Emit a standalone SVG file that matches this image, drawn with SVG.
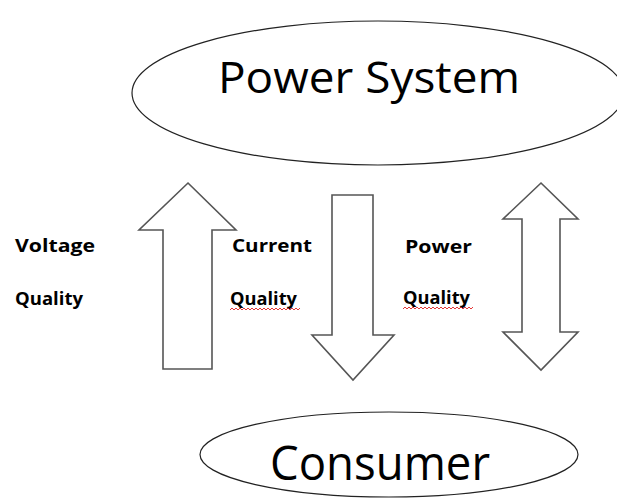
<svg xmlns="http://www.w3.org/2000/svg" width="617" height="499" viewBox="0 0 617 499">
<style>
.ell{fill:#fff;stroke:#222;stroke-width:1.2}
.arr{fill:#fff;stroke:#555;stroke-width:1.6;stroke-linejoin:miter}
.big{font-family:"Open Sans","Liberation Sans",sans-serif;fill:#000}
.lbl{font-family:"Open Sans","Liberation Sans",sans-serif;font-weight:bold;font-size:18.5px;fill:#000}
.sq{fill:none;stroke:#e02020;stroke-width:0.9}
</style>
<rect width="617" height="499" fill="#fff"/>
<g id="power-system">
<ellipse class="ell" cx="378" cy="93" rx="246" ry="72"/>
<text class="big" x="218" y="93" font-size="43" textLength="302" lengthAdjust="spacingAndGlyphs">Power System</text>
</g>
<g id="consumer">
<ellipse class="ell" cx="389" cy="454.5" rx="189" ry="42.5"/>
<text class="big" x="270" y="480" font-size="47" textLength="220" lengthAdjust="spacingAndGlyphs">Consumer</text>
</g>
<g id="connectors">
<polygon id="voltage-arrow" class="arr" points="188,183 236,230 212,230 212,369 163,369 163,230 139,230"/>
<polygon id="current-arrow" class="arr" points="332,195 373,195 373,335 394,335 353,380 312,335 332,335"/>
<polygon id="power-arrow" class="arr" points="541,183 578,219 560,219 560,332 578,332 541,370 503,332 522,332 522,219 503,219"/>
</g>
<g id="labels">
<text class="lbl" x="15" y="252" textLength="80" lengthAdjust="spacingAndGlyphs">Voltage</text>
<text class="lbl" x="15" y="305" textLength="68" lengthAdjust="spacingAndGlyphs">Quality</text>
<text class="lbl" x="232" y="252" textLength="80" lengthAdjust="spacingAndGlyphs">Current</text>
<text class="lbl" x="230" y="305" textLength="67" lengthAdjust="spacingAndGlyphs">Quality</text>
<text class="lbl" x="405" y="253" textLength="67" lengthAdjust="spacingAndGlyphs">Power</text>
<text class="lbl" x="403" y="304" textLength="67" lengthAdjust="spacingAndGlyphs">Quality</text>
<path class="sq" d="M230 310 l2 -2 l2 2 l2 -2 l2 2 l2 -2 l2 2 l2 -2 l2 2 l2 -2 l2 2 l2 -2 l2 2 l2 -2 l2 2 l2 -2 l2 2 l2 -2 l2 2 l2 -2 l2 2 l2 -2 l2 2 l2 -2 l2 2 l2 -2 l2 2 l2 -2 l2 2 l2 -2 l2 2 l2 -2 l2 2 l2 -2 l2 2 l2 -2"/>
<path class="sq" d="M403 309 l2 -2 l2 2 l2 -2 l2 2 l2 -2 l2 2 l2 -2 l2 2 l2 -2 l2 2 l2 -2 l2 2 l2 -2 l2 2 l2 -2 l2 2 l2 -2 l2 2 l2 -2 l2 2 l2 -2 l2 2 l2 -2 l2 2 l2 -2 l2 2 l2 -2 l2 2 l2 -2 l2 2 l2 -2 l2 2 l2 -2 l2 2 l2 -2"/>
</g>
</svg>
